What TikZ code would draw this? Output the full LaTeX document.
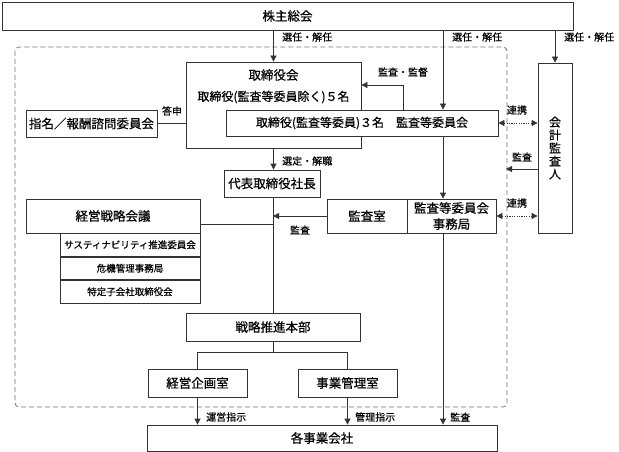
\documentclass[tikz,border=0pt]{standalone}
\usepackage{fontspec}
\setmainfont{Noto Sans CJK JP}[FakeBold=0.5,AutoFakeBold=0.5]
\usetikzlibrary{arrows.meta}

\begin{document}
\begin{tikzpicture}[x=1pt,y=-1pt,
		>={Triangle[length=6pt,width=6pt]},
		line/.style={draw=black!80,line width=0.8pt},
		box/.style={line,rectangle,inner sep=0pt,fill=white,font=\fontsize{12.5}{16}\selectfont\bfseries},
		subbox/.style={box,font=\fontsize{9.5}{11}\selectfont\bfseries},
		boardtext/.style={inner sep=0pt,font=\fontsize{12}{13}\selectfont\bfseries},
		lbl/.style={inner sep=1pt,font=\fontsize{10}{12}\selectfont\bfseries},
		link/.style={line,dash pattern=on 1.2pt off 1.2pt,<->}]
			\useasboundingbox (0,0) rectangle (619,452);
			
			\draw [black!55,line width=0.8pt,dash pattern=on 5pt off 3pt,rounded corners=4pt] (15,47) rectangle (507,407);
			
			\node [box,minimum width=571,minimum height=28] (gm) at (287.5,16) {株主総会};
			\node [box,minimum width=175,minimum height=86] (board) at (273.5,105) {};
			\node [boardtext,font=\fontsize{12.5}{14}\selectfont\bfseries] (boardtitle) at (273.5,75) {取締役会};
			\node [boardtext] (boardsub) at (273.5,97) {取締役(監査等委員除く)５名};
			\node [box,boardtext,minimum width=272,minimum height=26] (acm) at (362,123) {取締役(監査等委員)３名　監査等委員会};
			\node [box,minimum width=131,minimum height=27] (nomc) at (91.5,123.5) {指名／報酬諮問委員会};
			\node [box,minimum width=34,minimum height=170,align=center,font=\fontsize{12}{13}\selectfont\bfseries] (auditor) at (555,148) {会\\計\\監\\査\\人};
			\node [box,minimum width=96,minimum height=27] (ceo) at (272,183.5) {代表取締役社長};
			\node [box,minimum width=80,minimum height=34] (auditroom) at (367,216) {監査室};
			\node [box,minimum width=89,minimum height=34,align=center] (acoffice) at (451.5,216) {監査等委員会\\事務局};
			\node [box,minimum width=174,minimum height=34] (strat) at (113,216) {経営戦略会議};
			\node [subbox,minimum width=140,minimum height=22.7,anchor=north] (sus) at (130,233) {サスティナビリティ推進委員会};
			\node [subbox,minimum width=140,minimum height=22.7,anchor=north] (risk) at (sus.south) {危機管理事務局};
			\node [subbox,minimum width=140,minimum height=22.7,anchor=north] (subsid) at (risk.south) {特定子会社取締役会};
			\node [box,minimum width=174,minimum height=28] (hq) at (273,327) {戦略推進本部};
			\node [box,minimum width=99,minimum height=28] (plan) at (197.5,383) {経営企画室};
			\node [box,minimum width=99,minimum height=28] (bizmg) at (347.5,383) {事業管理室};
			\node [box,minimum width=350,minimum height=26] (cos) at (322,438) {各事業会社};
			
			\coordinate (col) at (443,0);
			\coordinate (ac) at (403,85);
			\coordinate (audtip) at (506,169);
			\coordinate (sj) at (273,224);
			
			\draw [line,->] (board.north |- gm.south) -- (board.north);
			\draw [line,->] (col |- gm.south) -- (col |- acm.north);
			\draw [line,->] (auditor.north |- gm.south) -- (auditor.north);
			\draw [line,->] (acm.north -| ac) -- (ac) -- (ac -| board.east);
			\draw [line] (nomc.east) -- (nomc.east -| board.west);
			\draw [link] (acm.east) -- (acm.east -| auditor.west);
			\draw [line,->] (audtip -| auditor.west) -- (audtip);
			\draw [link] (acoffice.east) -- (acoffice.east -| auditor.west);
			\draw [line,->] (col |- acm.south) -- (col |- acoffice.north);
			\draw [line,->] (board.south) -- (board.south |- ceo.north);
			\draw [line] (ceo.south -| hq.north) -- (hq.north);
			\draw [line] (sj -| strat.east) -- (sj);
			\draw [line,->] (auditroom.west) -- (auditroom.west -| hq.north);
			\draw [line] (hq.south) -- ++(0,11) -| (plan.north);
			\draw [line] (hq.south) -- ++(0,11) -| (bizmg.north);
			\draw [line,->] (plan.south) -- (plan.south |- cos.north);
			\draw [line,->] (bizmg.south) -- (bizmg.south |- cos.north);
			\draw [line,->] (col |- acoffice.south) -- (col |- cos.north);
			
			\node [lbl,anchor=west] (l1) at (281,37) {選任・解任};
			\node [lbl,anchor=west] (l2) at (451,37) {選任・解任};
			\node [lbl,anchor=west] (l3) at (563,37) {選任・解任};
			\node [lbl] (l4) at (403,72) {監査・監督};
			\node [lbl] (l5) at (172,111) {答申};
			\node [lbl] (l6) at (517,110) {連携};
			\node [lbl] (l7) at (522,157) {監査};
			\node [lbl] (l8) at (517,203) {連携};
			\node [lbl,anchor=west] (l9) at (281,161) {選定・解職};
			\node [lbl] (l10) at (300,230) {監査};
			\node [lbl,anchor=west] (l11) at (205,417) {運営指示};
			\node [lbl,anchor=west] (l12) at (354,417) {管理指示};
			\node [lbl,anchor=west] (l13) at (449,417) {監査};
		\end{tikzpicture}
\end{document}
